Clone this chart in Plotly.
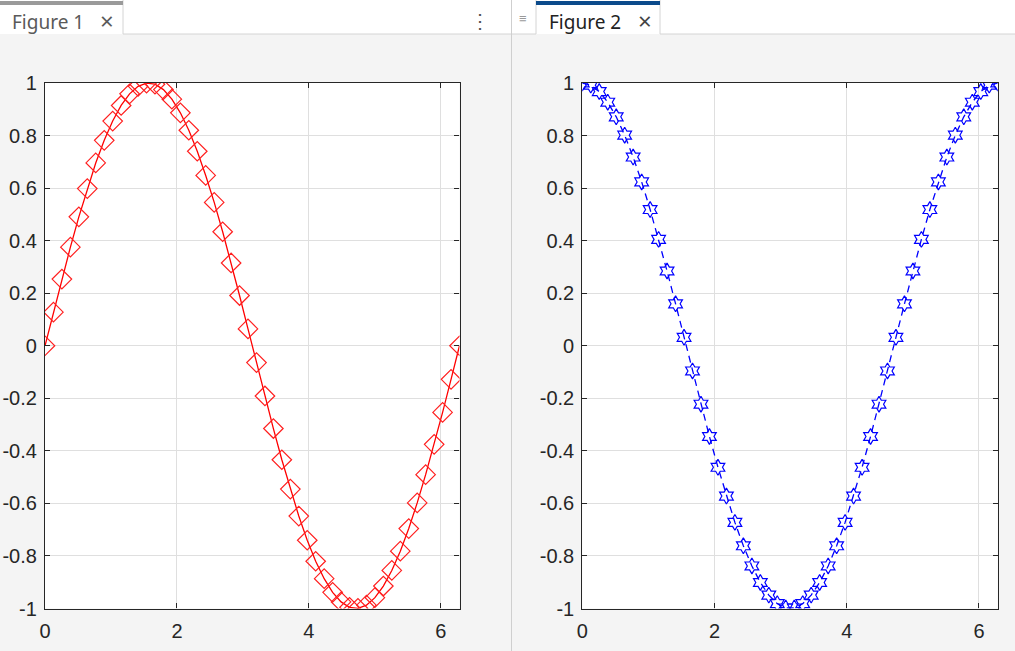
import plotly.graph_objects as go

# --- data (50 samples over 0..2*pi) ---
x_vals = [0, 0.128, 0.256, 0.385, 0.513, 0.641, 0.769, 0.898, 1.026, 1.154,
          1.282, 1.411, 1.539, 1.667, 1.795, 1.923, 2.052, 2.180, 2.308, 2.436,
          2.565, 2.693, 2.821, 2.949, 3.077, 3.206, 3.334, 3.462, 3.590, 3.719,
          3.847, 3.975, 4.103, 4.232, 4.360, 4.488, 4.616, 4.744, 4.873, 5.001,
          5.129, 5.257, 5.386, 5.514, 5.642, 5.770, 5.899, 6.027, 6.155, 6.283]

sin_vals = [0, 0.1279, 0.2537, 0.3753, 0.4907, 0.5981, 0.6957, 0.7818, 0.8552, 0.9145,
            0.9587, 0.9872, 0.9995, 0.9954, 0.9749, 0.9385, 0.8866, 0.8202, 0.7403, 0.6482,
            0.5455, 0.4339, 0.3151, 0.1911, 0.0641, -0.0641, -0.1911, -0.3151, -0.4339, -0.5455,
            -0.6482, -0.7403, -0.8202, -0.8866, -0.9385, -0.9749, -0.9954, -0.9995, -0.9872, -0.9587,
            -0.9145, -0.8552, -0.7818, -0.6957, -0.5981, -0.4907, -0.3753, -0.2537, -0.1279, 0]

cos_vals = [1, 0.9918, 0.9673, 0.9269, 0.8713, 0.8014, 0.7183, 0.6235, 0.5184, 0.4048,
            0.2845, 0.1596, 0.0321, -0.0960, -0.2225, -0.3454, -0.4625, -0.5721, -0.6723, -0.7614,
            -0.8381, -0.9010, -0.9490, -0.9816, -0.9979, -0.9979, -0.9816, -0.9490, -0.9010, -0.8381,
            -0.7614, -0.6723, -0.5721, -0.4625, -0.3454, -0.2225, -0.0960, 0.0321, 0.1596, 0.2845,
            0.4048, 0.5184, 0.6235, 0.7183, 0.8014, 0.8713, 0.9269, 0.9673, 0.9918, 1]

x_ticks = [0, 2, 4, 6]
x_labels = ["0", "2", "4", "6"]
y_ticks = [1, 0.8, 0.6, 0.4, 0.2, 0, -0.2, -0.4, -0.6, -0.8, -1]
y_labels = ["1", "0.8", "0.6", "0.4", "0.2", "0", "-0.2", "-0.4", "-0.6", "-0.8", "-1"]

tab_names = ["Figure 1", "Figure 2"]

W, H = 1015, 651
BG = "#f4f4f4"
AX = "#262626"


def px_x(p):
    return p / W


def px_y(p):
    # pixel from top -> paper fraction
    return 1 - p / H


fig = go.Figure()

# open markers drawn as filled symbols with a transparent fill
fig.add_trace(go.Scatter(
    x=x_vals, y=sin_vals, mode="lines+markers",
    line=dict(color="#ff0000", width=1.3),
    marker=dict(symbol="diamond", size=15, color="rgba(255,255,255,0)",
                line=dict(width=1.2, color="#ff2020")),
    xaxis="x", yaxis="y", showlegend=False, hoverinfo="skip",
))
fig.add_trace(go.Scatter(
    x=x_vals, y=cos_vals, mode="lines+markers",
    line=dict(color="#0000ff", width=1.3, dash="7px,5px"),
    marker=dict(symbol="hexagram", size=12, color="rgba(255,255,255,0)",
                line=dict(width=1.2, color="#0000ff")),
    xaxis="x2", yaxis="y2", showlegend=False, hoverinfo="skip",
))

tick_font = dict(family="Liberation Sans, Arial", size=20, color=AX)
common_x = dict(range=[0, 6.2832], tickvals=x_ticks, ticktext=x_labels,
                ticks="inside", ticklen=5, tickcolor=AX, showline=True,
                linecolor=AX, linewidth=1.2, mirror="ticks", showgrid=True,
                gridcolor="#dfdfdf", gridwidth=1, zeroline=False, tickfont=tick_font,
                ticklabelstandoff=4, automargin=False, fixedrange=True)
common_y = dict(range=[-1, 1], tickvals=y_ticks, ticktext=y_labels,
                ticks="inside", ticklen=5, tickcolor=AX, showline=True,
                linecolor=AX, linewidth=1.2, mirror="ticks", showgrid=True,
                gridcolor="#dfdfdf", gridwidth=1, zeroline=False, tickfont=tick_font,
                ticklabelstandoff=3, automargin=False, fixedrange=True)

fig.update_layout(
    width=W, height=H,
    margin=dict(l=0, r=0, t=0, b=0, pad=0),
    paper_bgcolor=BG, plot_bgcolor="white",
    xaxis=dict(domain=[px_x(45), px_x(459.5)], anchor="y", **common_x),
    yaxis=dict(domain=[px_y(608.5), px_y(83)], anchor="x", **common_y),
    xaxis2=dict(domain=[px_x(582.3), px_x(997.7)], anchor="y2", **common_x),
    yaxis2=dict(domain=[px_y(608.5), px_y(83)], anchor="x2", **common_y),
)

shapes = [
    # white tab strip
    dict(type="rect", xref="paper", yref="paper", x0=0, x1=1, y0=px_y(34), y1=1,
         fillcolor="white", line=dict(width=0), layer="below"),
    dict(type="line", xref="paper", yref="paper", x0=px_x(123), x1=px_x(536),
         y0=px_y(34), y1=px_y(34), line=dict(color="#d4d4d4", width=1)),
    dict(type="line", xref="paper", yref="paper", x0=px_x(660), x1=1,
         y0=px_y(34), y1=px_y(34), line=dict(color="#d4d4d4", width=1)),
    # tab borders
    dict(type="line", xref="paper", yref="paper", x0=px_x(123), x1=px_x(123),
         y0=px_y(34), y1=1, line=dict(color="#d4d4d4", width=1)),
    dict(type="line", xref="paper", yref="paper", x0=px_x(536), x1=px_x(536),
         y0=px_y(34), y1=1, line=dict(color="#d4d4d4", width=1)),
    dict(type="line", xref="paper", yref="paper", x0=px_x(660), x1=px_x(660),
         y0=px_y(34), y1=1, line=dict(color="#d4d4d4", width=1)),
    # active tab bars
    dict(type="rect", xref="paper", yref="paper", x0=0, x1=px_x(123),
         y0=px_y(5), y1=px_y(1), fillcolor="#9a9a9a", line=dict(width=0)),
    dict(type="rect", xref="paper", yref="paper", x0=px_x(536), x1=px_x(660),
         y0=px_y(5), y1=px_y(1), fillcolor="#0b4a8b", line=dict(width=0)),
    # panel divider
    dict(type="line", xref="paper", yref="paper", x0=px_x(511.5), x1=px_x(511.5),
         y0=0, y1=1, line=dict(color="#cfcfcf", width=1)),
]
fig.update_layout(shapes=shapes)

tab_font = "Noto Sans, Open Sans, sans-serif"
annotations = [
    dict(text=tab_names[0], x=px_x(10), y=px_y(22), xanchor="left", yanchor="middle",
         font=dict(family=tab_font, size=19, color="#5a5a5a")),
    dict(text="×", x=px_x(107), y=px_y(21), xanchor="center", yanchor="middle",
         font=dict(family=tab_font, size=24, color="#5a5a5a")),
    dict(text="⋮", x=px_x(480), y=px_y(20), xanchor="center", yanchor="middle",
         font=dict(family=tab_font, size=20, color="#555555")),
    dict(text="≡", x=px_x(523), y=px_y(18), xanchor="center", yanchor="middle",
         font=dict(family=tab_font, size=13, color="#9a9a9a")),
    dict(text=tab_names[1], x=px_x(547), y=px_y(22), xanchor="left", yanchor="middle",
         font=dict(family=tab_font, size=19, color="#222222")),
    dict(text="×", x=px_x(645), y=px_y(21), xanchor="center", yanchor="middle",
         font=dict(family=tab_font, size=24, color="#444444")),
]
for a in annotations:
    a.update(xref="paper", yref="paper", showarrow=False)
fig.update_layout(annotations=annotations)

# page body has a default margin; drop it so the figure fills the window
fig.write_html("out.html", config={"displayModeBar": False},
               post_script="document.body.style.margin='0';document.body.style.overflow='hidden';")
